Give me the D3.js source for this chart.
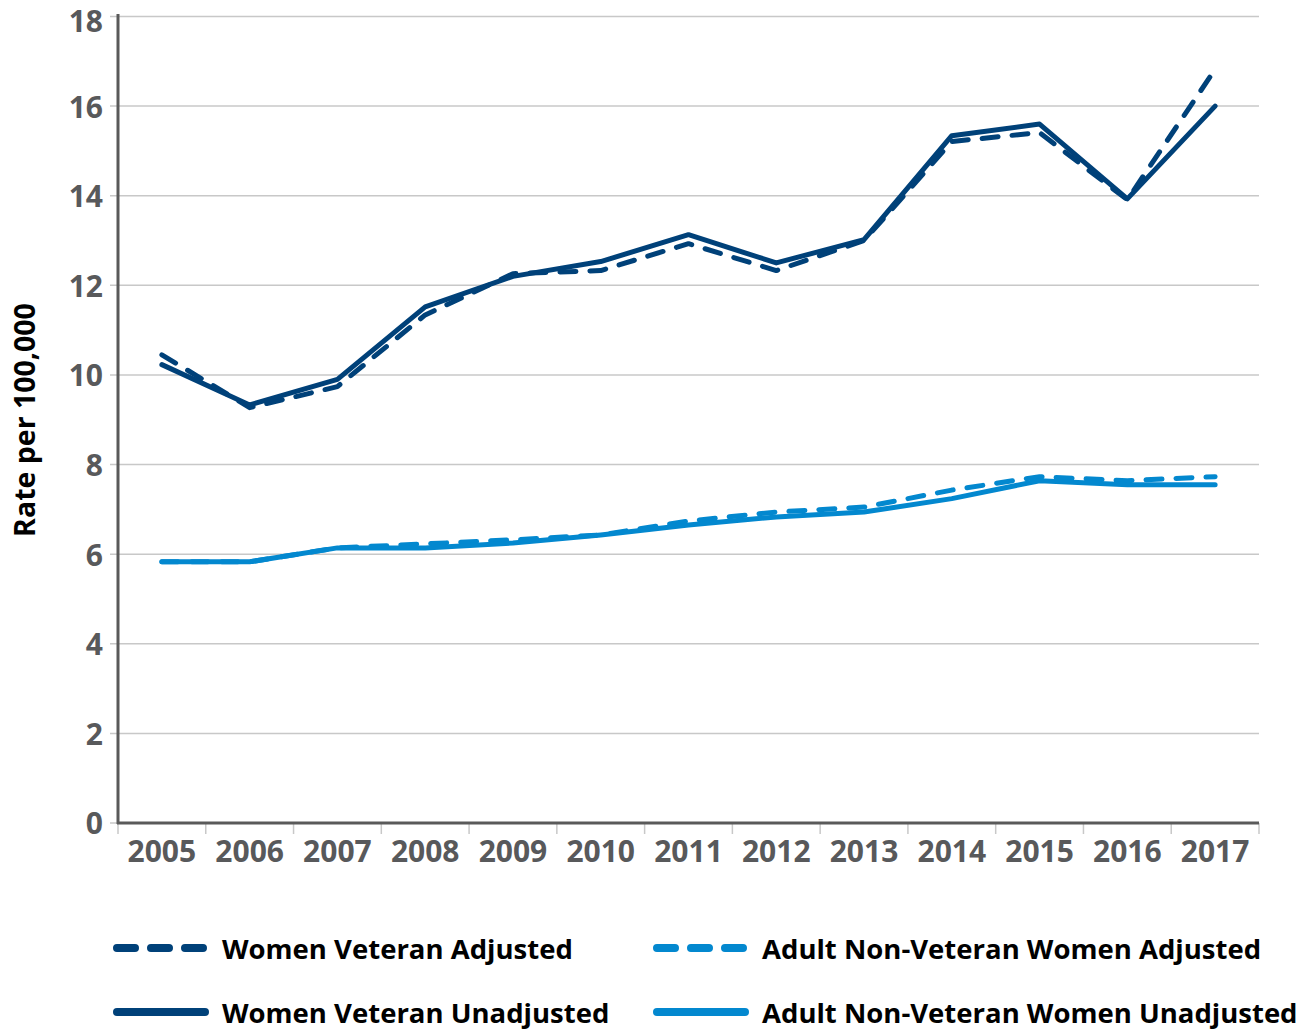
<!DOCTYPE html>
<html>
<head>
<meta charset="utf-8">
<script src="https://cdn.jsdelivr.net/npm/d3@7"></script>
<style>
  body { margin: 0; background: #fff; }
  text { font-family: "Open Sans", "Noto Sans", sans-serif; font-weight: 700; }
</style>
</head>
<body>
<svg id="chart"></svg>
<script>
// data
var years = [2005, 2006, 2007, 2008, 2009, 2010, 2011, 2012, 2013, 2014, 2015, 2016, 2017];
var vetAdjusted     = [10.45, 9.27, 9.74, 11.34, 12.26, 12.33, 12.93, 12.33, 13.0, 15.21, 15.41, 13.91, 16.82];
var vetUnadjusted   = [10.23, 9.33, 9.9, 11.52, 12.2, 12.53, 13.13, 12.5, 13.02, 15.34, 15.6, 13.93, 16.0];
var nonVetAdjusted  = [5.83, 5.83, 6.14, 6.23, 6.32, 6.43, 6.74, 6.94, 7.05, 7.43, 7.73, 7.64, 7.73];
var nonVetUnadjusted= [5.83, 5.83, 6.14, 6.14, 6.25, 6.43, 6.65, 6.83, 6.94, 7.24, 7.64, 7.55, 7.55];
var yTicks = [0, 2, 4, 6, 8, 10, 12, 14, 16, 18];

var dark = '#004179', light = '#0388cf';

var series = [
	{ name: 'Women Veteran Adjusted', values: vetAdjusted, color: dark, dashed: true },
	{ name: 'Adult Non-Veteran Women Adjusted', values: nonVetAdjusted, color: light, dashed: true },
	{ name: 'Women Veteran Unadjusted', values: vetUnadjusted, color: dark, dashed: false },
	{ name: 'Adult Non-Veteran Women Unadjusted', values: nonVetUnadjusted, color: light, dashed: false }
];

var W = 1306, H = 1030;
var svg = d3.select('#chart').attr('width', W).attr('height', H);

var x = d3.scaleBand().domain(years).range([118, 1259]);
var y = d3.scaleLinear().domain([0, 18]).range([823, 16.5]);

// gridlines
svg.append('g')
	.selectAll('line')
	.data(yTicks)
	.enter()
	.append('line')
	.attr('x1', 110)
	.attr('x2', 1259)
	.attr('y1', function(d) { return y(d); })
	.attr('y2', function(d) { return y(d); })
	.attr('stroke', '#c8c8c8')
	.attr('stroke-width', 1.5);

// y tick labels (top one nudged down so it stays inside the page)
svg.append('g')
	.selectAll('text')
	.data(yTicks)
	.enter()
	.append('text')
	.attr('x', 103)
	.attr('y', function(d) { return Math.max(y(d), 21); })
	.attr('dy', '0.38em')
	.attr('text-anchor', 'end')
	.attr('fill', '#58595b')
	.style('font-size', '30px')
	.text(function(d) { return d; });

// x ticks at band edges
var edges = years.map(function(d) { return x(d); }).concat([x.range()[1]]);
svg.append('g')
	.selectAll('line')
	.data(edges)
	.enter()
	.append('line')
	.attr('x1', function(d) { return d; })
	.attr('x2', function(d) { return d; })
	.attr('y1', 823)
	.attr('y2', 834)
	.attr('stroke', '#c8c8c8')
	.attr('stroke-width', 1.5);

// x labels
svg.append('g')
	.selectAll('text')
	.data(years)
	.enter()
	.append('text')
	.attr('x', function(d) { return x(d) + x.bandwidth() / 2; })
	.attr('y', 862)
	.attr('text-anchor', 'middle')
	.attr('fill', '#58595b')
	.style('font-size', '30px')
	.text(function(d) { return d; });

// axes lines
svg.append('line')
	.attr('x1', 118).attr('x2', 118).attr('y1', 14).attr('y2', 824)
	.attr('stroke', '#5a5a5a').attr('stroke-width', 3);
svg.append('line')
	.attr('x1', 117).attr('x2', 1259).attr('y1', 823).attr('y2', 823)
	.attr('stroke', '#5a5a5a').attr('stroke-width', 3);

// y axis title
svg.append('text')
	.attr('transform', 'translate(35,420) rotate(-90)')
	.attr('text-anchor', 'middle')
	.attr('fill', '#000')
	.style('font-size', '28.5px')
	.text('Rate per 100,000');

// lines
var line = d3.line()
	.x(function(d, i) { return x(years[i]) + x.bandwidth() / 2; })
	.y(function(d) { return y(d); });

svg.append('g')
	.selectAll('path')
	.data(series)
	.enter()
	.append('path')
	.attr('d', function(d) { return line(d.values); })
	.attr('fill', 'none')
	.attr('stroke', function(d) { return d.color; })
	.attr('stroke-width', 5)
	.attr('stroke-linecap', 'round')
	.attr('stroke-linejoin', 'round')
	.attr('stroke-dasharray', function(d) { return d.dashed ? '16,14' : null; });

// legend
var legendPos = [[115, 948], [655, 948], [115, 1012], [655, 1012]];
var lg = svg.append('g')
	.selectAll('g')
	.data(series)
	.enter()
	.append('g')
	.attr('transform', function(d, i) { return 'translate(' + legendPos[i][0] + ',' + legendPos[i][1] + ')'; });

lg.append('line')
	.attr('x1', 2).attr('x2', 90).attr('y1', 0).attr('y2', 0)
	.attr('stroke', function(d) { return d.color; })
	.attr('stroke-width', 8)
	.attr('stroke-linecap', 'round')
	.attr('stroke-dasharray', function(d) { return d.dashed ? '18,16' : null; });

lg.append('text')
	.attr('x', 107)
	.attr('y', 10.5)
	.attr('fill', '#000')
	.style('font-size', '27.5px')
	.text(function(d) { return d.name; });
</script>
</body>
</html>
